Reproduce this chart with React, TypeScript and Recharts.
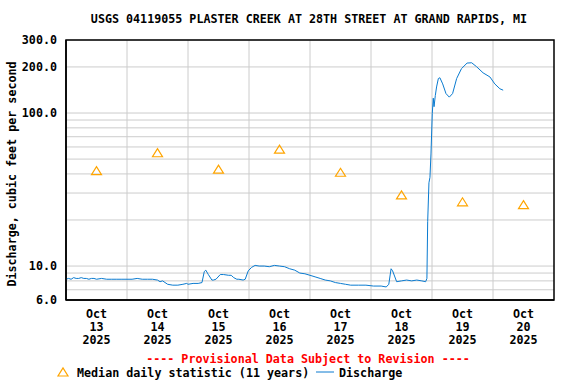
import React from 'react';
import { ComposedChart, Line, XAxis, YAxis, CartesianGrid, ReferenceArea } from 'recharts';

const TITLE = 'USGS 04119055 PLASTER CREEK AT 28TH STREET AT GRAND RAPIDS, MI';
const Y_LABEL = 'Discharge, cubic feet per second';
const DAY_LABELS = ['13', '14', '15', '16', '17', '18', '19', '20'];
const DAY_TICKS = [12, 36, 60, 84, 108, 132, 156, 180];
const DAY_GRID = [24, 48, 72, 96, 120, 144, 168];
const Y_TICKS = [6, 7, 8, 9, 10, 20, 30, 40, 50, 60, 70, 80, 90, 100, 200, 300];
const Y_LABELED: Record<number, string> = { 6: '6.0', 10: '10.0', 100: '100.0', 200: '200.0', 300: '300.0' };

const medianT = [12, 36, 60, 84, 108, 132, 156, 180];
const medianV = [42, 55, 43, 58, 41, 29.2, 26.3, 25.2];

const dischargeT = [
  0, 1, 2, 3, 4, 5, 6, 7, 8, 9, 10, 11, 12, 14, 16, 18, 20, 22, 24, 26, 28, 30, 32, 34, 36, 37, 38, 40, 42, 44, 46, 47.5, 48, 50, 52, 53.5,
  54.4, 55, 56, 57.4, 58, 59, 60.7, 62, 64, 65, 66, 67.2, 68, 69.7, 70.5, 71.7, 73, 74.4, 76, 78, 80, 82, 84, 86, 88, 90, 92, 94, 96, 98,
  100, 102, 104, 106, 108, 110, 112, 115, 118, 121, 124, 126, 127, 127.9, 128.5, 130.1, 132, 134, 136, 138, 140, 141.5, 142,
  142.3, 142.8, 143.2, 143.6, 144.1, 144.5, 144.8, 145.3, 145.8, 146.5, 147.1, 148.2, 149.5, 150.8, 152.1, 153.7, 155.6, 157.8, 159.6,
  161.5, 164.1, 166.8, 168.7, 170.7, 172,
];
const dischargeV = [
  8.2, 8.3, 8.2, 8.4, 8.3, 8.3, 8.4, 8.3, 8.3, 8.2, 8.3, 8.3, 8.2, 8.3, 8.2, 8.2, 8.2, 8.2, 8.2, 8.2, 8.3, 8.2, 8.2, 8.2, 8.1, 7.9, 8.0, 7.6, 7.5, 7.5, 7.6, 7.7, 7.6, 7.7, 7.7, 7.8,
  9.2, 9.4, 8.8, 8.1, 8.1, 8.2, 8.8, 8.8, 8.7, 8.7, 8.4, 8.2, 8.2, 8.1, 8.2, 9.3, 9.8, 10.1, 10.0, 10.0, 9.9, 10.1, 10.0, 9.9, 9.6, 9.4, 9.0, 8.9, 8.7, 8.5,
  8.3, 8.1, 8.0, 7.8, 7.7, 7.6, 7.5, 7.5, 7.5, 7.4, 7.4, 7.3, 7.6, 9.6, 9.3, 7.9, 8.0, 8.1, 8.0, 8.1, 8.0, 7.9, 8.3,
  19.5, 35, 38, 54, 99, 125, 110, 130, 148, 168, 170, 155, 134, 127, 134, 168, 195, 212, 213,
  201, 183, 172, 155, 144, 141,
];

const medianData = medianT.map((t, i) => ({ t, v: medianV[i] }));
const dischargeData = dischargeT.map((t, i) => ({ t, v: dischargeV[i] }));

const FONT = '"DejaVu Sans Mono", monospace';
const FS = 11.7;
const ORANGE = '#FFA500';
const BLUE = '#0a7bd0';

const Triangle = (props: any) => {
  const { cx, cy } = props;
  if (cx == null || cy == null) return null;
  return (
    <path
      d={`M${cx - 5},${cy + 4} L${cx + 5},${cy + 4} L${cx},${cy - 4} Z`}
      fill="none"
      stroke={ORANGE}
      strokeWidth={1.2}
    />
  );
};

const XTick = (props: any) => {
  const { x, y, payload } = props;
  const idx = DAY_TICKS.indexOf(payload.value);
  const day = idx >= 0 ? DAY_LABELS[idx] : '';
  return (
    <g>
      <text x={x} y={y + 18} textAnchor="middle" fontFamily={FONT} fontSize={FS} fontWeight="bold" fill="#000">Oct</text>
      <text x={x} y={y + 31} textAnchor="middle" fontFamily={FONT} fontSize={FS} fontWeight="bold" fill="#000">{day}</text>
      <text x={x} y={y + 44} textAnchor="middle" fontFamily={FONT} fontSize={FS} fontWeight="bold" fill="#000">2025</text>
    </g>
  );
};

const YTick = (props: any) => {
  const { y, payload } = props;
  const label = Y_LABELED[payload.value];
  if (!label) return null;
  return (
    <text x={57} y={y + 4} textAnchor="end" fontFamily={FONT} fontSize={FS} fontWeight="bold" fill="#000">{label}</text>
  );
};

export default function App() {
  return (
    <div style={{ position: 'absolute', left: 0, top: 0, width: 576, height: 384, background: '#fff' }}>
      <ComposedChart
        width={576}
        height={384}
        margin={{ top: 40, right: 22, left: 0, bottom: 0 }}
        style={{ position: 'absolute', left: 0, top: 0 }}
      >
        <CartesianGrid
          stroke="#cccccc"
          strokeWidth={1}
          verticalValues={DAY_GRID}
          horizontalValues={Y_TICKS}
        />
        <XAxis
          dataKey="t"
          type="number"
          domain={[0, 192]}
          ticks={DAY_TICKS}
          tick={<XTick />}
          tickLine={false}
          tickSize={0}
          tickMargin={0}
          axisLine={{ stroke: '#000', strokeWidth: 1.5 }}
          allowDataOverflow
          height={84}
          interval={0}
        />
        <YAxis
          dataKey="v"
          type="number"
          scale="log"
          domain={[6, 300]}
          ticks={Y_TICKS}
          tick={<YTick />}
          tickLine={false}
          axisLine={{ stroke: '#000', strokeWidth: 1.5 }}
          allowDataOverflow
          width={66}
          interval={0}
        />
        <ReferenceArea x1={0} x2={192} y1={6} y2={300} fill="none" stroke="#000" strokeWidth={1.5} ifOverflow="extendDomain" />
        <Line
          data={dischargeData}
          dataKey="v"
          type="linear"
          stroke={BLUE}
          strokeWidth={1}
          dot={false}
          isAnimationActive={false}
        />
        <Line
          data={medianData}
          dataKey="v"
          stroke="none"
          dot={<Triangle />}
          activeDot={false}
          isAnimationActive={false}
        />
      </ComposedChart>
      <svg width={576} height={384} style={{ position: 'absolute', left: 0, top: 0, pointerEvents: 'none' }}>
        <text x={309} y={23} textAnchor="middle" fontFamily={FONT} fontSize={FS} fontWeight="bold" fill="#000">{TITLE}</text>
        <text
          x={0}
          y={0}
          transform="translate(16,174) rotate(-90)"
          textAnchor="middle"
          fontFamily={FONT}
          fontSize={FS}
          fontWeight="bold"
          fill="#000"
        >
          {Y_LABEL}
        </text>
        <text x={308} y={363} textAnchor="middle" fontFamily={FONT} fontSize={FS} fontWeight="bold" fill="#ff0000">
          ---- Provisional Data Subject to Revision ----
        </text>
        <path d="M58,376 L68,376 L63,368 Z" fill="none" stroke={ORANGE} strokeWidth={1.2} />
        <text x={77} y={377} fontFamily={FONT} fontSize={FS} fontWeight="bold" fill="#000">Median daily statistic (11 years)</text>
        <line x1={316} y1={372} x2={334} y2={372} stroke={BLUE} strokeWidth={1} />
        <text x={339} y={377} fontFamily={FONT} fontSize={FS} fontWeight="bold" fill="#000">Discharge</text>
      </svg>
    </div>
  );
}
